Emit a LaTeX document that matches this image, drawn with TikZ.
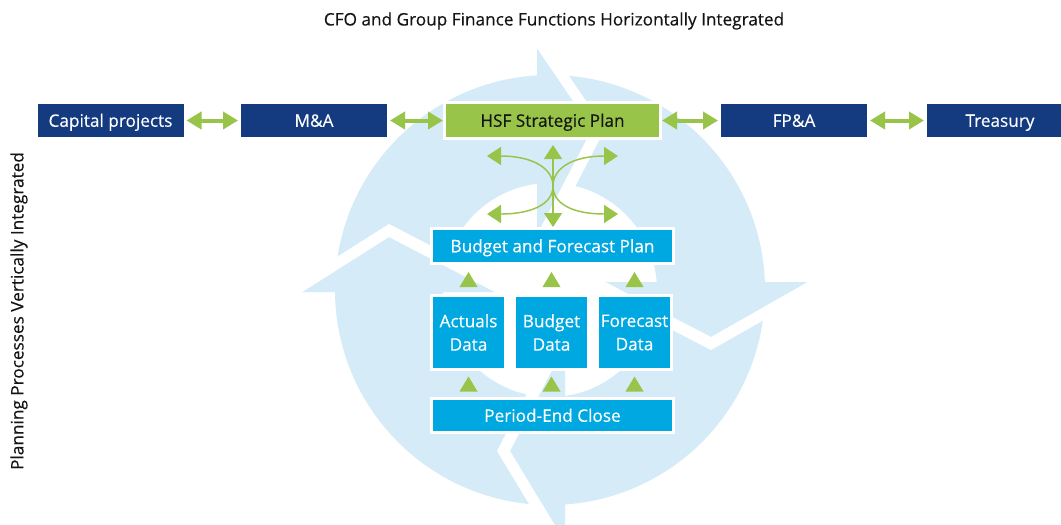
\documentclass[tikz,border=0pt]{standalone}
\usepackage{fontspec}
\setmainfont{Open Sans}[FakeBold=0.3]
\usetikzlibrary{arrows.meta,calc}

\definecolor{navy}{RGB}{20,58,128}
\definecolor{sky}{RGB}{0,168,225}
\definecolor{leaf}{RGB}{152,196,74}
\definecolor{ringblue}{RGB}{213,236,248}
\definecolor{ink}{RGB}{20,20,20}

% point of a cycle segment: #1 along the clockwise tangent, #2 outwards
\newcommand\ringpt[2]{({550+(\tx)*(#1)+(\ux)*(#2)},{290+(\ty)*(#1)+(\uy)*(#2)})}

\begin{document}
\begin{tikzpicture}[x=0.75pt,y=-0.75pt,
  txt/.style={font=\fontsize{12.9}{17.5}\selectfont},
  box/.style={txt, draw=white, line width=2.25pt, inner sep=0pt, align=center},
  oneline/.style={text height=9.4pt, text depth=0pt},
  navybox/.style={box, oneline, fill=navy, text=white, minimum width=149*0.75pt, minimum height=36*0.75pt},
  greenbox/.style={box, oneline, fill=leaf, text=ink, minimum width=216*0.75pt, minimum height=36*0.75pt},
  skybox/.style={box, fill=sky, text=white},
  widebox/.style={skybox, oneline, minimum width=242*0.75pt, minimum height=35*0.75pt},
  databox/.style={skybox, minimum width=74*0.75pt, minimum height=74*0.75pt},
  link/.style={draw=leaf, line width=3pt,
    {Triangle[length=11.25pt,width=12.75pt]}-{Triangle[length=11.25pt,width=12.75pt]}},
  fan/.style={draw=leaf, line width=1.1pt,
    {Triangle[length=10.5pt,width=13.5pt]}-{Triangle[length=10.5pt,width=13.5pt]}},
]
\clip (0,0) rectangle (1061,525);
\fill[white] (0,0) rectangle (1061,525);

% background cycle: ring, four arrow heads, white gaps in front of each head
\fill[ringblue, even odd rule] (550,290) circle[radius=161.25pt] (550,290) circle[radius=80.25pt];
\foreach \tx/\ty/\ux/\uy/\dd/\tp/\bo in
   {1/0/0/-1/13/42/242, 0/1/1/0/8/47/258, -1/0/0/1/15/40/252, 0/-1/-1/0/2/53/248}{
  \fill[ringblue] \ringpt{-\dd}{\bo} -- \ringpt{\tp}{161} -- \ringpt{-\dd}{55} -- cycle;
  \fill[white] \ringpt{-\dd}{\bo} -- \ringpt{\tp}{161} -- \ringpt{-\dd}{55}
     -- \ringpt{13-\dd}{55} -- \ringpt{\tp+13}{161} -- \ringpt{13-\dd}{\bo} -- cycle;
}

% titles
\node[txt, text=ink] (title) at (554,21) {CFO and Group Finance Functions Horizontally Integrated};
\node[txt, text=ink, rotate=90] (side) at (19,311) {Planning Processes Vertically Integrated};

% finance functions
\node[navybox] (cap) at (110.5,120.5) {Capital projects};
\node[navybox] (ma) at (314,120.5) {M\&A};
\node[greenbox] (hsf) at (552.5,120.5) {HSF Strategic Plan};
\node[navybox] (fpa) at (794,120.5) {FP\&A};
\node[navybox] (tre) at (1000,120.5) {Treasury};

\draw[link] (cap) -- (ma);
\draw[link] (ma) -- (hsf);
\draw[link] (hsf) -- (fpa);
\draw[link] (fpa) -- (tre);

% planning processes
\node[widebox] (plan) at (552.5,246) {Budget and Forecast Plan};
\node[databox] (act) at (468.5,332.5) {Actuals\\Data};
\node[databox] (bud) at (551.5,332.5) {Budget\\Data};
\node[databox] (fcs) at (634.5,332.5) {Forecast\\Data};
\node[widebox, minimum height=34*0.75pt] (close) at (552.5,415.5) {Period-End Close};

\foreach \n in {act,bud,fcs}{
  \coordinate (m) at ($(\n.north)!0.5!(\n.north |- plan.south)$);
  \fill[leaf] ($(m)+(-9,7.5)$) -- ($(m)+(9,7.5)$) -- ($(m)+(0,-7.5)$) -- cycle;
  \coordinate (m) at ($(\n.south)!0.5!(\n.south |- close.north)$);
  \fill[leaf] ($(m)+(-9,7.5)$) -- ($(m)+(9,7.5)$) -- ($(m)+(0,-7.5)$) -- cycle;
}

% fan of arrows between strategic plan and budget plan
\coordinate (fc) at (553,186);
\coordinate (ft) at ($(hsf.south)+(0.5,5)$);
\coordinate (fb) at ($(plan.north)+(0.5,0)$);
\coordinate (ful) at ($(fc)+(-66,-30)$);
\coordinate (fur) at ($(fc)+(65,-30)$);
\coordinate (fll) at ($(fc)+(-66,28)$);
\coordinate (flr) at ($(fc)+(65,28)$);
\draw[fan] (ft) -- (fb);
\draw[fan] (ful) .. controls +(45,0) and +(0,-18) .. (fc) .. controls +(0,18) and +(-45,0) .. (flr);
\draw[fan] (fur) .. controls +(-45,0) and +(0,-18) .. (fc) .. controls +(0,18) and +(45,0) .. (fll);
\end{tikzpicture}
\end{document}
